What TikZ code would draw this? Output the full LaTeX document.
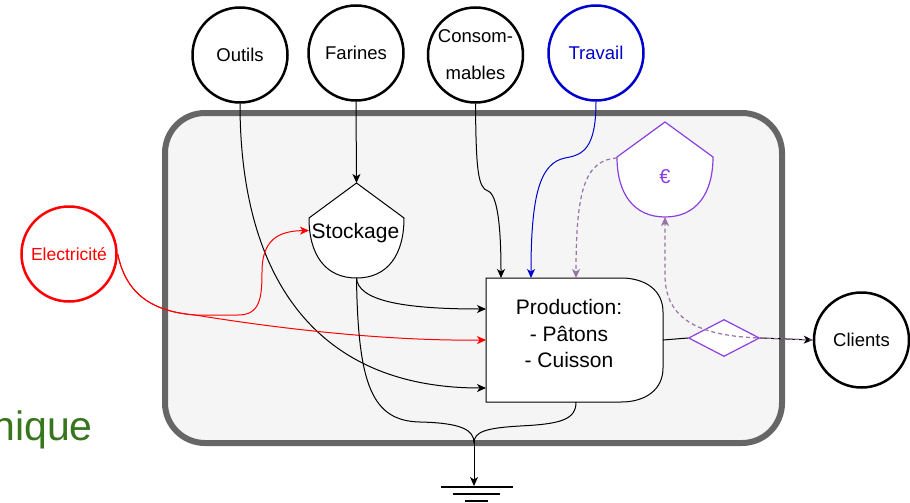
\documentclass[tikz,border=0pt]{standalone}
\usepackage{fontspec}
\setmainfont{Liberation Sans}
\usetikzlibrary{arrows.meta,calc,shapes.geometric}
\definecolor{boxgray}{HTML}{666666}
\definecolor{boxfill}{HTML}{F5F5F5}
\definecolor{elecred}{HTML}{FF0000}
\definecolor{travblue}{HTML}{0000CC}
\definecolor{europurple}{HTML}{8C3FE0}
\definecolor{dashpurple}{HTML}{9673A6}
\definecolor{titlegreen}{HTML}{38761D}
\begin{document}
\begin{tikzpicture}[x=1pt,y=-1pt,
  res/.style={circle, draw, line width=2.5pt, fill=white, minimum size=95pt, inner sep=0pt, font=\fontsize{18.5}{20}\selectfont},
  tip/.style={-{Stealth[length=9pt,width=8pt,inset=2.5pt]}},
  conn/.style={tip, line width=1pt},
  dconn/.style={tip, line width=1.2pt, draw=dashpurple, dash pattern=on 4pt off 3pt},
  holder/.style={inner sep=0pt, outer sep=0pt, minimum width=#1},
  bigtext/.style={font=\fontsize{21}{26.5}\selectfont, align=center, inner sep=0pt}]
\useasboundingbox (0,0) rectangle (910,503);

% title fragment
\node[anchor=base east, text=titlegreen, font=\fontsize{41}{48}\selectfont, inner sep=0pt] (title) at (93,440) {nique};

% system box
\node[draw=boxgray, fill=boxfill, line width=6pt, rounded corners=40pt, minimum width=617pt, minimum height=330pt, inner sep=0pt] (sys) at (473.5,278) {};

% resources
\node[res] (outils) at (240,55) {Outils};
\node[res] (farines) at (356,53) {Farines};
\node[res, font=\fontsize{18.5}{37}\selectfont, align=center] (cons) at (475.5,55) {Consom-\\mables};
\node[res, draw=travblue, text=travblue] (trav) at (596,53) {Travail};
\node[res, draw=elecred, text=elecred, font=\fontsize{17.5}{20}\selectfont] (elec) at (69,254) {Electricité};
\node[res] (clients) at (861.5,340) {Clients};

% stockage
\node[holder=95pt, minimum height=95pt] (stock) at (356.5,230.5) {};
\draw[fill=white, line width=1pt] (stock.north) -- ($(stock.north west)+(0,35)$)
  .. controls ($(stock.north west)+(0,72)$) and ($(stock.south)+(-31,0)$) .. (stock.south)
  .. controls ($(stock.south)+(31,0)$) and ($(stock.north east)+(0,72)$) .. ($(stock.north east)+(0,35)$) -- cycle;
\node[bigtext] (stocktxt) at (355.5,233) {Stockage};

% euro
\node[holder=96pt, minimum height=95pt] (euro) at (665,169.5) {};
\draw[fill=white, draw=europurple, line width=1.2pt] (euro.north) -- ($(euro.north west)+(0,35)$)
  .. controls ($(euro.north west)+(0,72)$) and ($(euro.south)+(-31,0)$) .. (euro.south)
  .. controls ($(euro.south)+(31,0)$) and ($(euro.north east)+(0,72)$) .. ($(euro.north east)+(0,35)$) -- cycle;
\node[font=\fontsize{20}{24}\selectfont, text=europurple, inner sep=0pt] (eurotxt) at (665,177) {€};

% production
\node[holder=177pt, minimum height=124pt] (prod) at (574.5,340) {};
\draw[fill=white, line width=1pt] (prod.north west) -- ($(prod.north east)+(-42,0)$)
  .. controls ($(prod.north east)+(-18,0)$) and ($(prod.north east)+(0,12)$) .. ($(prod.north east)+(0,34)$)
  -- ($(prod.south east)+(0,-34)$)
  .. controls ($(prod.south east)+(0,-12)$) and ($(prod.south east)+(-18,0)$) .. ($(prod.south east)+(-42,0)$)
  -- (prod.south west) -- cycle;
\node[bigtext] (prodtxt) at (569,333.5) {Production:\\- Pâtons\\- Cuisson};

% decision diamond
\node[diamond, draw=europurple, fill=white, line width=1.2pt, minimum width=71pt, minimum height=37pt, inner sep=0pt] (dia) at (724,338) {};

% ground
\coordinate (merge) at (474,443);
\coordinate (ground) at (474,486);
\draw[line width=2.5pt] (441,487) -- (513,487);
\draw[line width=2.5pt] (453,494) -- (500,494);
\draw[line width=2.5pt] (465,501) -- (488,501);

% connectors
\draw[conn] (outils.south) .. controls (240,270) and (310,388) .. ($(prod.west)+(0,48)$);
\draw[conn] (farines.south) -- (stock.north);
\draw[conn] (cons.south) .. controls (476,170) and (478,188) .. (488,191)
  .. controls (498,195) and (501,230) .. ($(prod.north west)+(15,0)$);
\draw[conn, draw=travblue] (trav.south) .. controls (596,150) and (582,155) .. (565,158)
  .. controls (540,163) and (531,195) .. ($(prod.north west)+(45,0)$);
\draw[conn, draw=elecred] (elec.east) .. controls (127,300) and (160,312) .. (195,315)
  .. controls (300,332) and (400,341) .. (prod.west);
\draw[conn, draw=elecred] (elec.east) .. controls (127,300) and (160,312) .. (195,315) -- (238,315)
  .. controls (260,315) and (262,298) .. (262,272)
  .. controls (262,240) and (278,231) .. (stock.west);
\draw[conn] (stock.south) .. controls (358,300) and (400,309) .. ($(prod.west)+(0,-31)$);
\draw[line width=1pt] (stock.south) .. controls (358,385) and (372,421) .. (420,422)
  .. controls (462,423) and (474,430) .. (merge);
\draw[line width=1pt] ($(prod.south)+(1.5,0)$) .. controls (576,420) and (560,424) .. (520,426)
  .. controls (485,428) and (474,432) .. (merge);
\draw[conn] (merge) -- (ground);
\draw[line width=1pt] (prod.east) -- (dia.west);
\draw[conn] (dia.east) -- (clients.west);
\draw[dconn] (clients.west) -- (dia.east) .. controls (700,336) and (665,320) .. (665,275) -- (euro.south);
\draw[dconn] ($(euro.north west)+(0,36)$) .. controls (585,160) and (576,190) .. ($(prod.north west)+(90,0)$);
\end{tikzpicture}
\end{document}
